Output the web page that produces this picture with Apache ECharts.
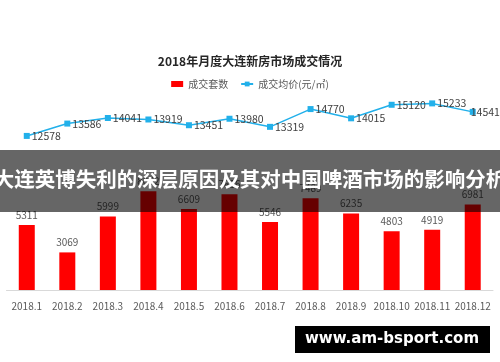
<!DOCTYPE html>
<html>
<head>
<meta charset="utf-8">
<script src="https://cdn.jsdelivr.net/npm/echarts@6/dist/echarts.min.js"></script>
<style>html,body{margin:0;padding:0;background:#fff;}#c{width:500px;height:362px;}</style>
</head>
<body>
<div id="c"></div>
<script>
const months = ['2018.1','2018.2','2018.3','2018.4','2018.5','2018.6','2018.7','2018.8','2018.9','2018.10','2018.11','2018.12'];
const deals = [5311, 3069, 5999, 8062, 6609, 7816, 5546, 7489, 6235, 4803, 4919, 6981];
const prices = [12578, 13586, 14041, 13919, 13451, 13980, 13319, 14770, 14015, 15120, 15233, 14541];
const titleText = '2018年月度大连新房市场成交情况';
const seriesNames = ['成交套数', '成交均价(元/㎡)'];
const bannerText = '大连英博失利的深层原因及其对中国啤酒市场的影响分析';
const watermarkText = 'www.am-bsport.com';

const FONT = '"Noto Sans CJK SC", "Microsoft YaHei", sans-serif';
const chart = echarts.init(document.getElementById('c'));
const lastIdx = prices.length - 1;
chart.setOption({
  animation: false,
  textStyle: { fontFamily: FONT },
  title: {
    text: titleText, left: 'center', top: 50,
    textStyle: { fontSize: 12, fontWeight: 'bold', color: '#262626', fontFamily: FONT }
  },
  legend: {
    top: 74, left: 'center', itemWidth: 12, itemHeight: 6, itemGap: 12,
    textStyle: { fontSize: 10, color: '#595959', fontFamily: FONT },
    data: [
      { name: seriesNames[0], icon: 'rect' },
      { name: seriesNames[1] }
    ]
  },
  grid: { left: 6.5, right: 7, top: 94, bottom: 72, containLabel: false },
  xAxis: {
    type: 'category', data: months,
    axisLine: { lineStyle: { color: '#d9d9d9', width: 1 } },
    axisTick: { show: false },
    axisLabel: { color: '#595959', fontSize: 10, margin: 11, interval: 0, fontFamily: FONT }
  },
  yAxis: { type: 'value', min: 0, max: 16000, show: false, splitLine: { show: false } },
  series: [
    {
      name: seriesNames[0], type: 'bar', data: deals, barWidth: 16,
      itemStyle: { color: '#ff0000' },
      label: { show: true, position: 'top', distance: 5, color: '#595959', fontSize: 10, fontFamily: FONT }
    },
    {
      name: seriesNames[1], type: 'line',
      data: prices.map((v, i) => i === lastIdx ? { value: v, label: { offset: [-7, 0] } } : v),
      symbol: 'rect', symbolSize: 6,
      lineStyle: { color: '#22b0ea', width: 1.5 },
      itemStyle: { color: '#22b0ea' },
      label: { show: true, position: 'right', distance: 2, color: '#404040', fontSize: 10.5, fontFamily: FONT }
    }
  ],
  graphic: [
    {
      type: 'rect', z: 100, left: 0, top: 150,
      shape: { width: 500, height: 62 },
      style: { fill: 'rgba(0,0,0,0.6)' }
    },
    {
      type: 'text', z: 101, left: 'center', top: 169,
      style: { text: bannerText, fill: '#ffffff', font: 'bold 20.5px "Noto Sans CJK SC", sans-serif' }
    },
    {
      type: 'rect', z: 100, left: 295, top: 326,
      shape: { width: 195, height: 27 },
      style: { fill: '#000000' }
    },
    {
      type: 'text', z: 101, x: 392, y: 339.5,
      style: { text: watermarkText, fill: '#ffffff', font: 'bold 15px "DejaVu Sans", sans-serif', align: 'center', verticalAlign: 'middle' }
    }
  ]
});
</script>
</body>
</html>
